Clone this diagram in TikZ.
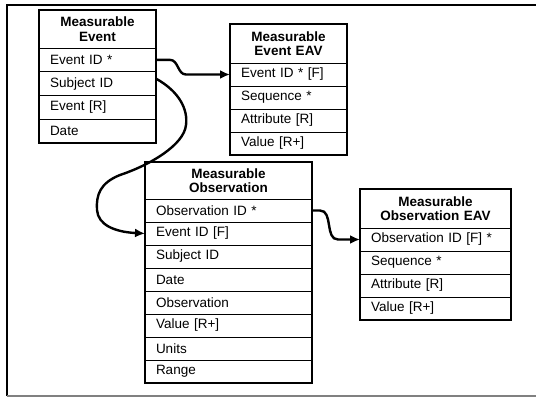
\documentclass[tikz,border=0pt]{standalone}
\usepackage{fontspec}
\setmainfont{Liberation Sans}
\usepackage{tikz}
\usetikzlibrary{arrows.meta,positioning,fit}
\tikzset{
    cabecalho/.style={
        rectangle,
        draw,
        line width=0.8pt,
        font=\fontsize{13.5pt}{14.5pt}\selectfont\bfseries,
        align=center,
        text width=#1,
        minimum height=38pt,
        inner xsep=11pt,
        inner ysep=0pt,
        outer sep=0pt
    },
    campo/.style={
        rectangle,
        draw,
        line width=0.6pt,
        font=\fontsize{13.5pt}{14.5pt}\selectfont,
        align=left,
        text width=#1,
        minimum height=23pt,
        inner xsep=11pt,
        inner ysep=0pt,
        outer sep=0pt
    },
    contorno/.style={draw, line width=2.6pt, inner sep=0pt},
    ligacao/.style={-{Latex[length=10pt,width=9pt]}, line width=2.4pt}
}

\begin{document}
\begin{tikzpicture}[x=1pt, y=-1pt, node distance=0pt]
    \useasboundingbox (0,0) rectangle (536,398);
    % moldura da pagina
    \draw[line width=1.2pt] (7,396) -- (7,5) -- (536,5);
    \draw[line width=1.2pt, gray] (7,396) -- (536,396);

    % Measurable Event
    \node[cabecalho=95pt, anchor=north west] (evento) at (39,10)
        {Measurable\\Event};
    \node[campo=95pt, minimum height=23.75pt, below=of evento] (evId) {Event ID *};
    \node[campo=95pt, minimum height=23.75pt, below=of evId] (evSujeito) {Subject ID};
    \node[campo=95pt, minimum height=23.75pt, below=of evSujeito] (evEvento) {Event [R]};
    \node[campo=95pt, minimum height=23.75pt, below=of evEvento] (evData) {Date};
    \node[contorno, fit=(evento)(evData)] {};

    % Measurable Event EAV
    \node[cabecalho=95pt, minimum height=39pt, anchor=north west] (eventoEav) at (230,24)
        {Measurable\\Event EAV};
    \node[campo=95pt, below=of eventoEav] (eavId) {Event ID * [F]};
    \node[campo=95pt, below=of eavId] (eavSequencia) {Sequence *};
    \node[campo=95pt, below=of eavSequencia] (eavAtributo) {Attribute [R]};
    \node[campo=95pt, below=of eavAtributo] (eavValor) {Value [R+]};
    \node[contorno, fit=(eventoEav)(eavValor)] {};

    % Measurable Observation
    \node[cabecalho=145pt, minimum height=37pt, anchor=north west] (observacao) at (145,162)
        {Measurable\\Observation};
    \node[campo=145pt, below=of observacao] (obsId) {Observation ID *};
    \node[campo=145pt, below=of obsId] (obsEvento) {Event ID [F]};
    \node[campo=145pt, below=of obsEvento] (obsSujeito) {Subject ID};
    \node[campo=145pt, below=of obsSujeito] (obsData) {Date};
    \node[campo=145pt, below=of obsData] (obsTexto) {Observation};
    \node[campo=145pt, below=of obsTexto] (obsValor) {Value [R+]};
    \node[campo=145pt, below=of obsValor] (obsUnidades) {Units};
    \node[campo=145pt, below=of obsUnidades] (obsFaixa) {Range};
    \node[contorno, fit=(observacao)(obsFaixa)] {};

    % Measurable Observation EAV
    \node[cabecalho=129pt, minimum height=39pt, anchor=north west] (observacaoEav) at (360,189)
        {Measurable\\Observation EAV};
    \node[campo=129pt, below=of observacaoEav] (oeavId) {Observation ID [F] *};
    \node[campo=129pt, below=of oeavId] (oeavSequencia) {Sequence *};
    \node[campo=129pt, below=of oeavSequencia] (oeavAtributo) {Attribute [R]};
    \node[campo=129pt, below=of oeavAtributo] (oeavValor) {Value [R+]};
    \node[contorno, fit=(observacaoEav)(oeavValor)] {};

    % ligacoes
    \draw[ligacao] (evId.east) -- ++(14,0)
        to[out=0, in=180] ([xshift=-44pt]eavId.west) -- (eavId.west);
    \draw[ligacao] ([yshift=5pt]evSujeito.east)
        .. controls (180,92) and (188,110) .. (186,125)
        .. controls (184,145) and (150,165) .. (120,175)
        .. controls (100,183) and (96,195) .. (97,210)
        .. controls (98,225) and (115,232) .. (obsEvento.west);
    \draw[ligacao] (obsId.east) -- ++(8,0)
        to[out=0, in=180] ([xshift=-22pt]oeavId.west) -- (oeavId.west);
\end{tikzpicture}
\end{document}
